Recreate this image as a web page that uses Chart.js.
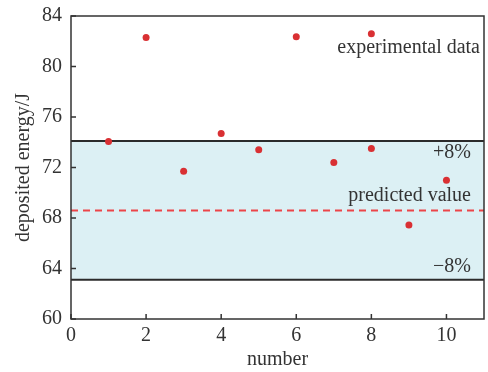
<!DOCTYPE html>
<html lang="en">
<head>
    <meta charset="UTF-8">
    <title>Deposited energy</title>
    <script src="https://cdn.jsdelivr.net/npm/chart.js"></script>
    <style>
        body { margin: 0; padding: 0; background: #fff; }
        #wrap { width: 488px; height: 372px; }
    </style>
</head>
<body>
    <div id="wrap"><canvas id="chart"></canvas></div>
    <script>
        // measured points
        const numbers = [1, 2, 3, 4, 5, 6, 7, 8, 8, 9, 10];
        const energies = [74.05, 82.3, 71.7, 74.7, 73.4, 82.35, 72.4, 82.6, 73.5, 67.45, 71.0];

        // predicted value and the +/-8% band
        const predicted = 68.6;
        const bandUpper = 74.1;
        const bandLower = 63.1;
        const lineX = [0, 11];

        const xTicks = [0, 2, 4, 6, 8, 10];
        const yTicks = [60, 64, 68, 72, 76, 80, 84];

        const serif = '"Liberation Serif", "DejaVu Serif", serif';
        const textColor = '#333';

        const flat = v => lineX.map(x => ({ x: x, y: v }));

        // inward ticks, frame and text labels
        const decor = {
            id: 'decor',
            afterDatasetsDraw(chart) {
                const { ctx, chartArea: a, scales: { x, y } } = chart;
                ctx.save();
                ctx.strokeStyle = '#333';
                ctx.lineWidth = 1.5;
                ctx.strokeRect(a.left, a.top, a.right - a.left, a.bottom - a.top);
                ctx.beginPath();
                xTicks.forEach(v => {
                    const px = x.getPixelForValue(v);
                    ctx.moveTo(px, a.bottom);
                    ctx.lineTo(px, a.bottom - 5);
                });
                yTicks.forEach(v => {
                    const py = y.getPixelForValue(v);
                    ctx.moveTo(a.left, py);
                    ctx.lineTo(a.left + 5, py);
                });
                ctx.stroke();

                ctx.fillStyle = textColor;
                ctx.font = '20px ' + serif;
                ctx.textAlign = 'right';
                ctx.textBaseline = 'middle';
                ctx.fillText('experimental data', a.right - 4, y.getPixelForValue(bandUpper) - 93);
                ctx.fillText('+8%', a.right - 13, y.getPixelForValue(bandUpper) + 12);
                ctx.fillText('predicted value', a.right - 13, y.getPixelForValue(predicted) - 15);
                ctx.fillText('\u22128%', a.right - 13, y.getPixelForValue(bandLower) - 13);
                ctx.restore();
            }
        };

        new Chart(document.getElementById('chart'), {
            type: 'scatter',
            data: {
                datasets: [
                    {
                        data: flat(bandUpper),
                        showLine: true,
                        borderColor: '#2b2b2b',
                        borderWidth: 2,
                        pointRadius: 0,
                        backgroundColor: '#dcf0f4',
                        fill: '+1',
                        order: 3
                    },
                    {
                        data: flat(bandLower),
                        showLine: true,
                        borderColor: '#2b2b2b',
                        borderWidth: 2,
                        pointRadius: 0,
                        fill: false,
                        order: 2
                    },
                    {
                        data: flat(predicted),
                        showLine: true,
                        borderColor: '#ec4548',
                        borderWidth: 2,
                        borderDash: [7, 5],
                        pointRadius: 0,
                        fill: false,
                        order: 2
                    },
                    {
                        data: numbers.map((n, i) => ({ x: n, y: energies[i] })),
                        pointRadius: 3.5,
                        pointBackgroundColor: '#d93033',
                        pointBorderWidth: 0,
                        order: 1
                    }
                ]
            },
            options: {
                responsive: true,
                maintainAspectRatio: false,
                animation: false,
                layout: { padding: { top: 16, right: 1, left: 0, bottom: 0 } },
                plugins: { legend: { display: false }, tooltip: { enabled: false } },
                scales: {
                    x: {
                        type: 'linear',
                        min: 0,
                        max: 11,
                        afterBuildTicks: s => { s.ticks = xTicks.map(v => ({ value: v })); },
                        afterFit: s => { s.height = 53; s.paddingLeft = 0; s.paddingRight = 0; },
                        grid: { display: false, tickLength: 4 },
                        border: { display: false },
                        ticks: { color: textColor, font: { family: serif, size: 20 }, padding: 1 },
                        title: {
                            display: true,
                            text: 'number',
                            color: textColor,
                            font: { family: serif, size: 20 },
                            padding: { top: -2, bottom: 0 }
                        }
                    },
                    y: {
                        min: 60,
                        max: 84,
                        afterBuildTicks: s => { s.ticks = yTicks.map(v => ({ value: v })); },
                        afterFit: s => { s.width = 71; s.paddingTop = 0; s.paddingBottom = 0; },
                        grid: { display: false },
                        border: { display: false },
                        ticks: { color: textColor, font: { family: serif, size: 20 }, padding: 1 },
                        title: {
                            display: true,
                            text: 'deposited energy/J',
                            color: textColor,
                            font: { family: serif, size: 20 },
                            padding: { top: 12, bottom: 0 }
                        }
                    }
                }
            },
            plugins: [decor]
        });
    </script>
</body>
</html>
